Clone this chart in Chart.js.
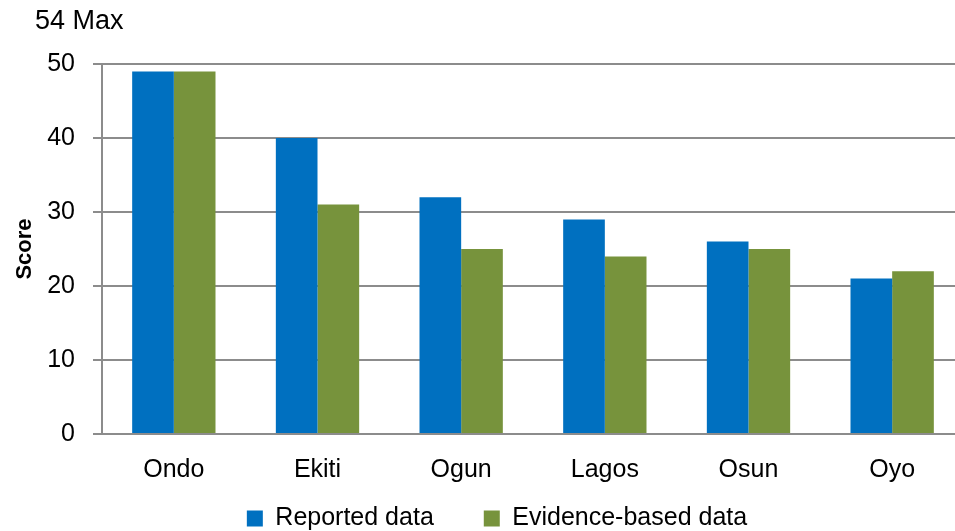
<!DOCTYPE html>
<html>
<head>
<meta charset="utf-8">
<script src="https://cdn.jsdelivr.net/npm/chart.js@4"></script>
<style>
  html, body { margin: 0; padding: 0; background: #fff; overflow: hidden; }
  #wrap { width: 965px; height: 531px; }
</style>
</head>
<body>
<div id="wrap"><canvas id="myChart" width="965" height="531"></canvas></div>
<script>
const states = ['Ondo', 'Ekiti', 'Ogun', 'Lagos', 'Osun', 'Oyo'];
const reported = [49, 40, 32, 29, 26, 21];
const evidence = [49, 31, 25, 24, 25, 22];
const yTicks = [0, 10, 20, 30, 40, 50];
const maxNote = '54 Max';

const FONT = "'Liberation Sans', Arial, sans-serif";

// draws the "54 Max" note above the y axis
const maxLabel = {
    id: 'maxLabel',
    afterDraw(chart) {
        const ctx = chart.ctx;
        ctx.save();
        ctx.font = '27px ' + FONT;
        ctx.fillStyle = '#000';
        ctx.textBaseline = 'middle';
        ctx.textAlign = 'left';
        ctx.fillText(maxNote, 35, 22);
        ctx.restore();
    }
};

const data = {
    labels: states,
    datasets: [{
        label: 'Reported data',
        backgroundColor: '#0070C0',
        data: reported,
    }, {
        label: 'Evidence-based data',
        backgroundColor: '#77933C',
        data: evidence,
    }]
};

const config = {
    type: 'bar',
    data: data,
    options: {
        responsive: false,
        animation: false,
        layout: { padding: { top: 64, right: 1, left: 0, bottom: 0 } },
        datasets: { bar: { categoryPercentage: 0.58, barPercentage: 1.0 } },
        plugins: {
            legend: {
                position: 'bottom',
                labels: {
                    font: { family: FONT, size: 25 },
                    color: '#000',
                    boxWidth: 16,
                    boxHeight: 16,
                    padding: 50,
                }
            },
            tooltip: { enabled: false }
        },
        scales: {
            x: {
                afterFit(scale) { scale.height = 54; },
                grid: { display: false },
                border: { display: true, color: '#8c8c8c', width: 2 },
                ticks: { font: { family: FONT, size: 25 }, color: '#000', padding: 13 }
            },
            y: {
                min: 0,
                max: 50,
                afterBuildTicks(scale) { scale.ticks = yTicks.map(v => ({ value: v })); },
                afterFit(scale) { scale.width = 102; },
                grid: { color: '#8c8c8c', lineWidth: 2, tickLength: 9 },
                border: { display: true, color: '#8c8c8c', width: 2 },
                ticks: { font: { family: FONT, size: 25 }, color: '#000', padding: 18 },
                title: {
                    display: true,
                    text: 'Score',
                    font: { family: FONT, size: 22, weight: 'bold' },
                    color: '#000',
                    padding: { top: 12, bottom: 0 }
                }
            }
        }
    },
    plugins: [maxLabel]
};

const myChart = new Chart(document.getElementById('myChart'), config);

// legend item spacing is wide, but keep the legend box itself short
// and draw the items just under the axis labels
const fitLegend = myChart.legend.fit;
myChart.legend.fit = function () {
    fitLegend.call(this);
    this.height = 43;
};
const drawLegend = myChart.legend.draw;
myChart.legend.draw = function () {
    const top = this.top, left = this.left;
    this.top = this.chart.chartArea.bottom + 22;
    this.left = left + 30;
    drawLegend.call(this);
    this.top = top;
    this.left = left;
};
myChart.update();
</script>
</body>
</html>
